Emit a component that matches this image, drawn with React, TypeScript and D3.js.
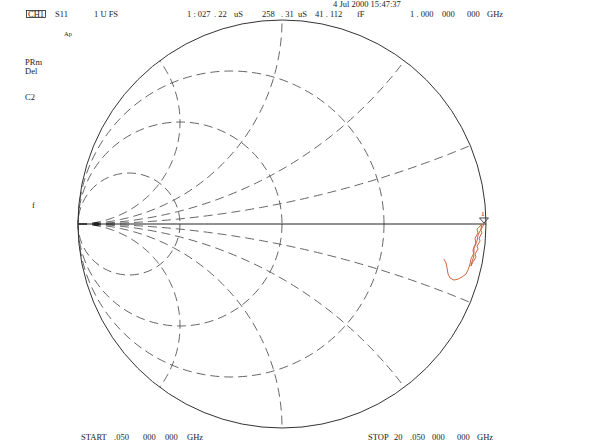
import { useEffect, useRef } from 'react';
import * as d3 from 'd3';

// admittance grid values (normalised)
const conductanceCircles = [1 / 3, 1, 3];
const susceptanceArcs = [0.2, 0.5, 1, 2];

// S11 trace, reflection coefficient (re, im)
const traceRe = [
  0.995, 0.985, 0.975, 0.98, 0.966, 0.971, 0.956, 0.961, 0.946, 0.951, 0.936, 0.926,
  0.931, 0.941, 0.936, 0.951, 0.946, 0.961, 0.956, 0.971, 0.98, 0.975, 0.961, 0.956,
  0.941, 0.941, 0.926, 0.922, 0.912, 0.902, 0.882, 0.863, 0.843, 0.824, 0.814, 0.809,
  0.804, 0.794,
];
const traceIm = [
  0.01, -0.01, -0.029, -0.044, -0.069, -0.083, -0.108, -0.123, -0.147, -0.162, -0.186, -0.206,
  -0.186, -0.157, -0.127, -0.098, -0.069, -0.044, -0.025, -0.01, 0.0, -0.025, -0.054, -0.083,
  -0.113, -0.142, -0.172, -0.196, -0.225, -0.245, -0.26, -0.27, -0.275, -0.265, -0.245, -0.216,
  -0.191, -0.172,
];

const headerTokens = ['S11', '1 U FS'];
const markerValues = ['1 : 027', '. 22', 'uS', '258', '. 31', 'uS', '41 . 112', 'fF', '1 . 000', '000', '000', 'GHz'];
const startTokens = ['START', '.050', '000', '000', 'GHz'];
const stopTokens = ['STOP', '20', '.050', '000', '000', 'GHz'];

export default function App() {
  const plotRef = useRef<SVGGElement>(null);

  useEffect(() => {
    if (!plotRef.current) return;
    const root = d3.select(plotRef.current);
    root.selectAll('*').remove();

    const cx = 282, cy = 224, R = 204;
    const x = d3.scaleLinear().domain([-1, 1]).range([cx - R, cx + R]);
    const y = d3.scaleLinear().domain([-1, 1]).range([cy + R, cy - R]);
    const line = d3.line<[number, number]>().x(d => x(d[0])).y(d => y(d[1]));

    const grid = root.append('g')
      .attr('fill', 'none')
      .attr('stroke', '#555')
      .attr('stroke-width', 0.9)
      .attr('stroke-dasharray', '9,5');

    conductanceCircles.forEach(g => {
      grid.append('circle')
        .attr('cx', x(-g / (1 + g)))
        .attr('cy', y(0))
        .attr('r', x(1 / (1 + g)) - x(0));
    });

    susceptanceArcs.forEach(b => {
      const end = Math.atan2(2 * b / (1 + b * b) - 1 / b, (1 - b * b) / (1 + b * b) + 1);
      [1, -1].forEach(sign => {
        const pts = d3.range(0, 1.0001, 1 / 90).map(t => {
          const a = -Math.PI / 2 + t * (end + Math.PI / 2);
          return [-1 + Math.cos(a) / b, sign * (1 / b + Math.sin(a) / b)] as [number, number];
        });
        grid.append('path').attr('d', line(pts));
      });
    });

    root.append('circle')
      .attr('cx', x(0)).attr('cy', y(0)).attr('r', x(1) - x(0))
      .attr('fill', 'none').attr('stroke', '#333').attr('stroke-width', 1);

    root.append('line')
      .attr('x1', x(-1)).attr('x2', x(1)).attr('y1', y(0)).attr('y2', y(0))
      .attr('stroke', '#222').attr('stroke-width', 1);

    // small blob near the short-circuit end
    root.append('ellipse')
      .attr('cx', x(-0.91)).attr('cy', y(0)).attr('rx', 3.2).attr('ry', 2)
      .attr('fill', '#222');

    const trace = traceRe.map((re, i) => [re, traceIm[i]] as [number, number]);
    root.append('path')
      .attr('d', line(trace))
      .attr('fill', 'none')
      .attr('stroke', '#d0643c')
      .attr('stroke-width', 1);

    // marker 1
    const mx = x(traceRe[0]) - 1, my = y(traceIm[0]) + 1;
    root.append('path')
      .attr('d', `M${mx - 4.5},${my - 5}L${mx + 4.5},${my - 5}L${mx},${my}Z`)
      .attr('fill', 'none').attr('stroke', '#333').attr('stroke-width', 0.9);
    root.append('text')
      .attr('x', mx - 3).attr('y', my - 7)
      .attr('font-size', 7).attr('font-family', 'Liberation Serif, serif').attr('fill', '#222')
      .text('1');
  }, []);

  const font = { fontFamily: 'Liberation Serif, serif', fontSize: 8.5, fill: '#222' };
  const markerX = [187, 214, 234, 262, 281, 298, 315, 357, 410, 442, 467, 487];
  const startX = [81, 114, 143, 165, 187];
  const stopX = [368, 394, 410, 432, 457, 477];

  return (
    <svg
      width={590}
      height={443}
      style={{ position: 'absolute', left: 0, top: 0, display: 'block', background: '#fff' }}
    >
      <g ref={plotRef} />
      <g style={font}>
        <rect x={26.5} y={10.5} width={19} height={7} fill="none" stroke="#222" strokeWidth={0.8} />
        <text x={28} y={17}>CH1</text>
        <text x={55} y={17}>{headerTokens[0]}</text>
        <text x={94} y={17}>{headerTokens[1]}</text>
        {markerValues.map((t, i) => (
          <text key={i} x={markerX[i]} y={17}>{t}</text>
        ))}
        <text x={333} y={7}>4 Jul 2000  15:47:37</text>
        <text x={64} y={36} fontSize={6.5}>Ap</text>
        <text x={25} y={65}>PRm</text>
        <text x={25} y={74}>Del</text>
        <text x={25} y={100}>C2</text>
        <text x={32} y={208}>f</text>
        {startTokens.map((t, i) => (
          <text key={'s' + i} x={startX[i]} y={440}>{t}</text>
        ))}
        {stopTokens.map((t, i) => (
          <text key={'p' + i} x={stopX[i]} y={440}>{t}</text>
        ))}
      </g>
    </svg>
  );
}
